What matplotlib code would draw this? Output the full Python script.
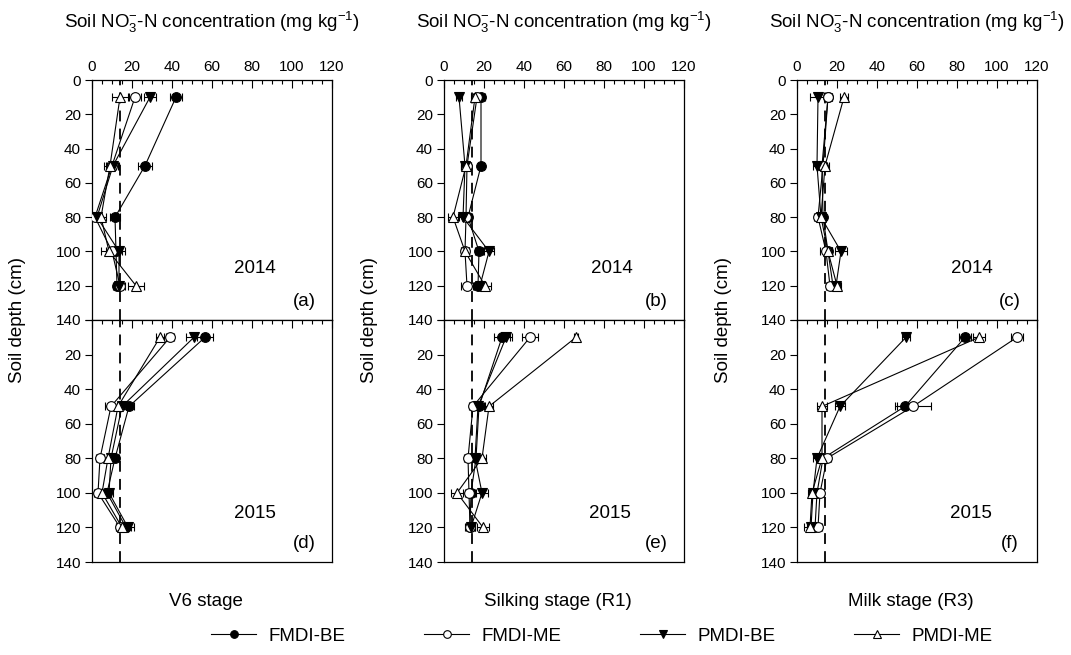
import matplotlib
matplotlib.use("Agg")
import matplotlib.pyplot as plt
from matplotlib.ticker import MultipleLocator
from matplotlib.lines import Line2D

plt.rcParams['font.family'] = ['Liberation Sans', 'DejaVu Sans']
plt.rcParams['mathtext.fontset'] = 'custom'
plt.rcParams['mathtext.rm'] = 'Liberation Sans'
plt.rcParams['mathtext.it'] = 'Liberation Sans:italic'

depths = [10, 50, 80, 100, 120]
treatments = ["FMDI-BE", "FMDI-ME", "PMDI-BE", "PMDI-ME"]
stages = ["V6 stage", "Silking stage (R1)", "Milk stage (R3)"]
years = ["2014", "2015"]
letters = [["(a)", "(b)", "(c)"], ["(d)", "(e)", "(f)"]]
threshold = 14

# V6 stage
v6_2014_fmdi_be = [42, 26.5, 11.5, 12, 12.5]
v6_2014_fmdi_me = [21.5, 10, 1.5, 10, 14]
v6_2014_pmdi_be = [29, 10.5, 2.5, 13.5, 13.5]
v6_2014_pmdi_me = [14, 9, 4.5, 8.5, 22]
v6_2014_err = [[3, 3.5, 2.5, 3, 2], [3, 3, 2, 3, 2.5], [3, 3, 2, 3, 2], [4, 3, 2.5, 4, 4]]

v6_2015_fmdi_be = [56.5, 18.5, 11.5, 7.5, 17]
v6_2015_fmdi_me = [39, 9.5, 4, 3, 14]
v6_2015_pmdi_be = [51, 15, 9.5, 8.5, 18]
v6_2015_pmdi_me = [34, 13, 8, 5, 15]
v6_2015_err = [[4, 2.5, 2, 2, 2.5], [2, 3, 2, 2, 2], [4, 2, 2, 2, 3], [2, 2, 2, 2, 3]]

# Silking stage (R1)
r1_2014_fmdi_be = [18.5, 18.5, 12, 17.5, 17]
r1_2014_fmdi_me = [16.5, 11.5, 11, 10.5, 11.5]
r1_2014_pmdi_be = [7.5, 10.5, 9.5, 22.5, 18]
r1_2014_pmdi_me = [15.5, 11, 4.5, 10.5, 20.5]
r1_2014_err = [[2, 1.5, 2, 2, 2], [2, 2, 2, 2, 3], [1.5, 2, 2, 2.5, 3], [2, 2.5, 2.5, 2, 3]]

r1_2015_fmdi_be = [29, 17.5, 16, 13.5, 13]
r1_2015_fmdi_me = [43, 14.5, 12, 12.5, 13]
r1_2015_pmdi_be = [31, 17, 15.5, 19, 13.5]
r1_2015_pmdi_me = [66, 22.5, 19, 6.5, 19.5]
r1_2015_err = [[4, 2.5, 2, 2, 2.5], [4, 2, 2, 2, 2], [3, 2, 2, 3, 2], [1, 2, 2, 3, 3]]

# Milk stage (R3)
r3_2014_fmdi_be = [15.5, 12.5, 13, 15.5, 18]
r3_2014_fmdi_me = [15.5, 13, 10.5, 14.5, 16.5]
r3_2014_pmdi_be = [10.5, 10, 12, 22, 19.5]
r3_2014_pmdi_me = [23.5, 14, 12, 15.5, 20]
r3_2014_err = [[2, 2, 1.5, 2, 2], [2, 2, 2, 3, 2], [4, 2, 2, 3, 2], [2, 2, 2, 2, 2]]

r3_2015_fmdi_be = [84, 54, 13, 10, 9]
r3_2015_fmdi_me = [110, 58, 15, 11.5, 10.5]
r3_2015_pmdi_be = [54.5, 21.5, 10, 8, 7]
r3_2015_pmdi_me = [91, 12.5, 12.5, 7.5, 6.5]
r3_2015_err = [[3, 4, 2, 2, 2], [3, 9, 2, 2, 2], [2, 2.5, 2, 2, 2], [3, 2.5, 2, 2, 3]]

data = [
    [[v6_2014_fmdi_be, v6_2014_fmdi_me, v6_2014_pmdi_be, v6_2014_pmdi_me], v6_2014_err,
     [v6_2015_fmdi_be, v6_2015_fmdi_me, v6_2015_pmdi_be, v6_2015_pmdi_me], v6_2015_err],
    [[r1_2014_fmdi_be, r1_2014_fmdi_me, r1_2014_pmdi_be, r1_2014_pmdi_me], r1_2014_err,
     [r1_2015_fmdi_be, r1_2015_fmdi_me, r1_2015_pmdi_be, r1_2015_pmdi_me], r1_2015_err],
    [[r3_2014_fmdi_be, r3_2014_fmdi_me, r3_2014_pmdi_be, r3_2014_pmdi_me], r3_2014_err,
     [r3_2015_fmdi_be, r3_2015_fmdi_me, r3_2015_pmdi_be, r3_2015_pmdi_me], r3_2015_err],
]

styles = [dict(marker='o', mfc='black'), dict(marker='o', mfc='white'),
          dict(marker='v', mfc='black'), dict(marker='^', mfc='white')]

W, H = 1071, 655
fig = plt.figure(figsize=(W / 100, H / 100), dpi=100)

col_left = [92, 444, 797]
pw = 240
row_top = [80, 320]
row_bot = [320, 562]
year_x = [[0.68, 0.70, 0.73], [0.68, 0.69, 0.725]]

def fx(px):
    return px / W

def fy(py):
    return 1 - py / H

title = r'Soil $\mathregular{NO_3^{-}}$-N concentration (mg kg$^{\mathregular{-1}}$)'

for c in range(3):
    for r in range(2):
        ax = fig.add_axes([fx(col_left[c]), fy(row_bot[r]), pw / W, (row_bot[r] - row_top[r]) / H])
        vals = data[c][2 * r]
        errs = data[c][2 * r + 1]
        ax.axvline(threshold, color='black', lw=1.3, ls=(0, (6, 4)), zorder=1)
        for k in range(4):
            ax.errorbar(vals[k], depths, xerr=errs[k], color='black', lw=0.8,
                        elinewidth=0.8, capsize=3, capthick=0.8,
                        ms=7, mec='black', mew=0.8, zorder=3, **styles[k])
        ax.set_xlim(0, 120)
        ax.set_ylim(140, 0)
        ax.yaxis.set_major_locator(MultipleLocator(20))
        ax.xaxis.set_major_locator(MultipleLocator(20))
        ax.xaxis.set_minor_locator(MultipleLocator(5))
        ax.tick_params(axis='y', direction='out', length=5, width=0.8, labelsize=11, pad=3)
        if r == 0:
            ax.tick_params(axis='x', which='both', direction='in', top=True, bottom=False,
                           labeltop=True, labelbottom=False, labelsize=11, width=0.8, pad=4)
            ax.tick_params(axis='x', which='major', length=6)
            ax.tick_params(axis='x', which='minor', length=3)
        else:
            ax.tick_params(axis='x', which='both', direction='in', top=True, bottom=False,
                           labeltop=False, labelbottom=False, width=0.8)
            ax.tick_params(axis='x', which='major', length=6)
            ax.tick_params(axis='x', which='minor', length=3)
            ax.set_yticks([0, 20, 40, 60, 80, 100, 120, 140])
            ax.set_yticklabels(['', '20', '40', '60', '80', '100', '120', '140'])
        for s in ax.spines.values():
            s.set_linewidth(0.9)
        ax.text(year_x[r][c], 0.215 if r == 0 else 0.20, years[r], transform=ax.transAxes,
                ha='center', va='center', fontsize=13.5)
        ax.text(0.885, 0.075, letters[r][c], transform=ax.transAxes,
                ha='center', va='center', fontsize=13.5)

    cx = col_left[c] + pw / 2
    fig.text(fx(cx), fy(22), title, ha='center', va='center', fontsize=13.5)
    fig.text(fx(cx - 6), fy(602), stages[c], ha='center', va='center', fontsize=13.5)
    fig.text(fx(col_left[c] - 74), fy(320), 'Soil depth (cm)', rotation=90,
             ha='center', va='center', fontsize=13.5)

handles = [Line2D([], [], color='black', lw=0.8, ms=5.5, mec='black', mew=0.8, **st)
           for st in styles]
fig.legend(handles, treatments, loc='center', bbox_to_anchor=(fx(602), fy(636)),
           ncol=4, frameon=False, fontsize=13.5, handlelength=2.4, columnspacing=4.2,
           handletextpad=0.65)

fig.savefig('out.png', dpi=100)
